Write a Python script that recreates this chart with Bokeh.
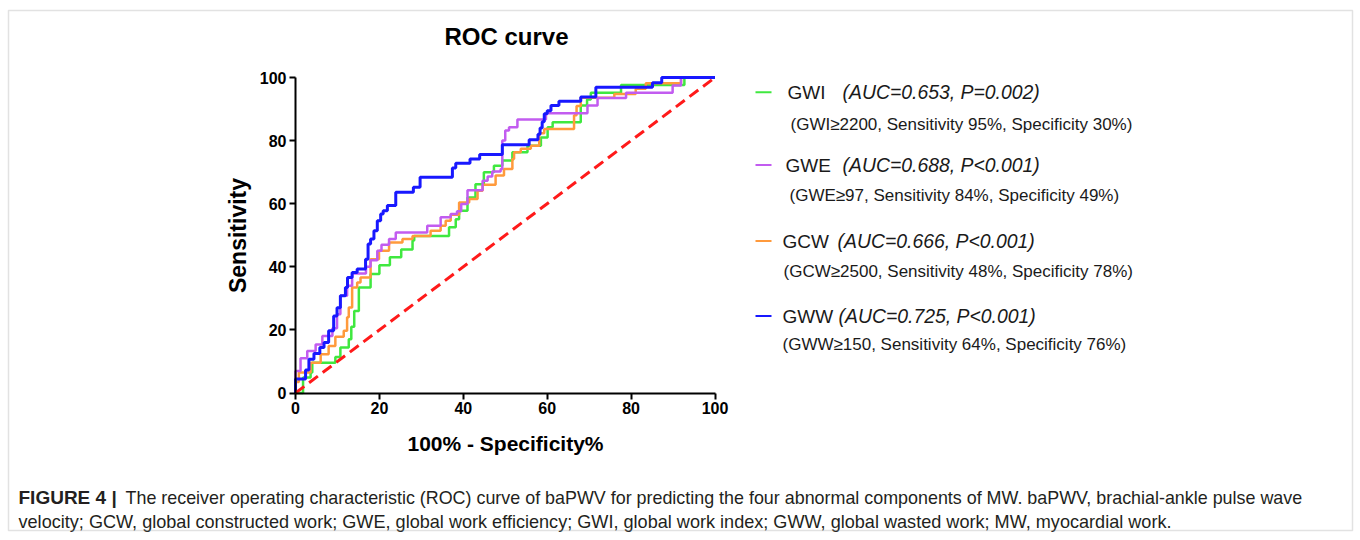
from bokeh.plotting import figure
from bokeh.models import Range1d, Label, BoxAnnotation, FixedTicker
from bokeh.embed import file_html
from bokeh.resources import INLINE

# ---------------- data ----------------
ticks = [0, 20, 40, 60, 80, 100]
chance = [0, 100]

gwi_fpr = [0, 1.8, 3.6, 4.0, 9.5, 10.7, 12.7, 13.3, 14.0, 15.1, 17.9, 20.0, 22.5, 25.2, 27.9, 28.3,
           36.6, 38.2, 39.0, 41.0, 42.9, 44.9, 47.3, 49.3, 51.7, 55.3, 58.5, 60.1, 61.3, 68.0, 69.5,
           70.4, 77.6, 92.7, 100]
gwi_tpr = [0, 4.9, 6.5, 9.6, 11.4, 14.4, 17.0, 21.0, 26.0, 33.4, 37.7, 40.5, 43.0, 45.5, 48.3, 49.8,
           52.5, 55.1, 57.8, 62.0, 66.2, 70.0, 72.0, 73.7, 76.3, 78.4, 81.0, 84.2, 85.8, 91.1, 93.0,
           95.2, 97.6, 100, 100]

gcw_fpr = [0, 0, 0.8, 3.6, 6.0, 7.9, 9.5, 11.5, 12.3, 12.7, 13.5, 14.7, 15.5, 17.9, 19.9, 22.3,
           25.5, 27.9, 32.2, 34.6, 35.8, 37.0, 39.0, 41.4, 43.4, 44.6, 47.7, 49.7, 51.7, 52.1, 53.7,
           56.1, 58.1, 59.3, 66.4, 67.0, 68.0, 76.0, 81.1, 83.5, 91.9, 100]
gcw_tpr = [0, 3.5, 6.5, 9.6, 12.3, 14.9, 17.8, 19.7, 24.0, 27.1, 33.4, 35.0, 36.6, 42.4, 45.1, 47.7,
           48.8, 49.8, 51.4, 53.0, 54.6, 56.5, 60.4, 61.5, 64.1, 66.0, 68.9, 71.0, 74.2, 76.3, 77.4,
           78.4, 82.3, 83.7, 88.0, 91.0, 93.6, 94.8, 96.4, 98.2, 100, 100]

gwe_fpr = [0, 0, 1.2, 2.8, 4.8, 6.4, 8.8, 9.9, 10.7, 12.3, 13.5, 16.8, 17.9, 19.5, 20.5, 22.3, 23.9,
           31.4, 34.6, 37.0, 38.5, 39.5, 41.0, 44.6, 45.8, 46.9, 48.9, 49.3, 50.0, 50.9, 52.9, 59.7,
           69.6, 72.0, 78.8, 89.9, 91.9, 100]
gwe_tpr = [0, 7.0, 11.0, 13.3, 15.4, 18.1, 20.5, 25.0, 30.8, 34.0, 37.9, 40.0, 42.1, 45.1, 47.0, 48.8,
           50.9, 53.0, 55.7, 56.7, 57.6, 59.9, 64.3, 67.3, 68.6, 70.2, 71.0, 80.0, 83.2, 84.2, 86.7,
           88.7, 91.1, 93.5, 95.2, 97.5, 100, 100]

gww_fpr = [0, 0, 2.4, 3.2, 4.4, 5.8, 6.8, 7.9, 9.1, 9.9, 10.7, 11.9, 12.4, 13.5, 14.7, 16.7, 17.3,
           17.9, 18.7, 19.5, 20.3, 20.9, 21.9, 23.9, 28.1, 29.7, 37.4, 38.2, 41.6, 43.9, 49.3, 55.7,
           57.8, 58.3, 58.8, 59.3, 60.0, 60.9, 62.8, 68.0, 71.6, 85.1, 87.3, 100]
gww_tpr = [0, 4.4, 7.3, 10.7, 12.5, 14.4, 16.0, 19.7, 24.4, 27.0, 30.8, 33.4, 36.6, 38.2, 39.3, 42.4,
           47.2, 48.8, 51.4, 54.6, 56.7, 57.8, 59.4, 63.6, 65.2, 68.4, 71.3, 72.8, 74.2, 75.6, 78.7,
           80.3, 82.0, 84.0, 86.0, 88.5, 89.5, 91.1, 92.5, 93.8, 96.9, 98.3, 100, 100]

names = ["GWI", "GWE", "GCW", "GWW"]
stats = ["(AUC=0.653, P=0.002)", "(AUC=0.688, P<0.001)", "(AUC=0.666, P<0.001)", "(AUC=0.725, P<0.001)"]
cutoffs = ["(GWI\u22652200, Sensitivity 95%, Specificity 30%)",
           "(GWE\u226597, Sensitivity 84%, Specificity 49%)",
           "(GCW\u22652500, Sensitivity 48%, Specificity 78%)",
           "(GWW\u2265150, Sensitivity 64%, Specificity 76%)"]
colors = {"GWI": "#3fe83f", "GWE": "#c25cf0", "GCW": "#ff9a3c", "GWW": "#1818ff"}
caption1 = ("The receiver operating characteristic (ROC) curve of baPWV for predicting the four abnormal "
            "components of MW. baPWV, brachial-ankle pulse wave")
caption2 = ("velocity; GCW, global constructed work; GWE, global work efficiency; GWI, global work index; "
            "GWW, global wasted work; MW, myocardial work.")

# ---------------- layout ----------------
W, H = 1360, 540
SX, SY = 4.195, 3.155          # pixels per data unit
OX, OY = 295.0, 392.5          # pixel position of the (0, 0) corner
X0 = -OX / SX
X1 = X0 + W / SX
Y1 = OY / SY
Y0 = Y1 - H / SY
FONT = "Liberation Sans"


def dx(px):
    return X0 + px / SX


def dy(py):
    return Y1 - py / SY


p = figure(width=W, height=H, x_range=Range1d(X0, X1), y_range=Range1d(Y0, Y1),
           output_backend="svg", toolbar_location=None, title=None, min_border=0)
p.background_fill_color = "white"
p.border_fill_color = "white"
p.outline_line_color = None
p.grid.visible = False

for ax in (p.xaxis[0], p.yaxis[0]):
    ax.fixed_location = 0
    ax.bounds = (0, 100)
    ax.ticker = FixedTicker(ticks=ticks)
    ax.minor_tick_line_color = None
    ax.major_tick_out = 6
    ax.major_tick_in = 0
    ax.axis_line_width = 2
    ax.major_tick_line_width = 2
    ax.axis_line_color = "black"
    ax.major_tick_line_color = "black"
    ax.major_label_text_font = FONT
    ax.major_label_text_font_style = "bold"
    ax.major_label_text_font_size = "16px"
    ax.major_label_text_color = "black"
    ax.major_label_standoff = 3
    ax.axis_label_text_font = FONT
    ax.axis_label_text_font_style = "bold"
    ax.axis_label_text_color = "black"

p.xaxis.axis_label = "100% - Specificity%"
p.xaxis.axis_label_text_font_size = "21px"
p.xaxis.axis_label_standoff = 14
p.yaxis.axis_label = "Sensitivity"
p.yaxis.axis_label_text_font_size = "23px"
p.yaxis.axis_label_standoff = 6

series = {"GWI": (gwi_fpr, gwi_tpr), "GCW": (gcw_fpr, gcw_tpr),
          "GWE": (gwe_fpr, gwe_tpr), "GWW": (gww_fpr, gww_tpr)}
for nm in ["GWI", "GCW", "GWE", "GWW"]:
    fx, ty = series[nm]
    p.step(fx, ty, mode="after", line_color=colors[nm],
           line_width=3 if nm == "GWW" else 2.5)

p.line(chance, chance, line_color="#ff1a1a", line_width=3, line_dash="11 6")

# title
p.add_layout(Label(x=dx(506), y=dy(36), text="ROC curve", text_align="center",
                   text_baseline="middle", text_font=FONT, text_font_style="bold",
                   text_font_size="24px", text_color="black"))

# legend
main_y = [91.7, 164.5, 240.5, 315.5]
sub_y = [123.5, 195, 270.5, 343.5]
name_x = [787, 785, 782, 782]
stat_x = [842, 842, 837, 838]
sub_x = [790, 789, 783, 782]
for i, nm in enumerate(names):
    p.add_layout(BoxAnnotation(left=dx(755), right=dx(771), top=dy(main_y[i] - 1),
                               bottom=dy(main_y[i] + 1), fill_color=colors[nm], fill_alpha=1,
                               line_color=None))
    p.add_layout(Label(x=dx(name_x[i]), y=dy(main_y[i]), text=nm, text_baseline="middle",
                       text_font=FONT, text_font_size="19px", text_color="#1a1a1a"))
    p.add_layout(Label(x=dx(stat_x[i]), y=dy(main_y[i]), text=stats[i], text_baseline="middle",
                       text_font=FONT, text_font_style="italic", text_font_size="19.4px",
                       text_color="#1a1a1a"))
    p.add_layout(Label(x=dx(sub_x[i]), y=dy(sub_y[i]), text=cutoffs[i], text_baseline="middle",
                       text_font=FONT, text_font_size="17px", text_color="#1a1a1a"))

# caption
p.add_layout(Label(x=dx(18), y=dy(497), text="FIGURE 4 |", text_baseline="middle",
                   text_font=FONT, text_font_style="bold", text_font_size="19px",
                   text_color="#231f20"))
p.add_layout(Label(x=dx(125), y=dy(497), text=caption1, text_baseline="middle",
                   text_font=FONT, text_font_size="17.9px", text_color="#231f20"))
p.add_layout(Label(x=dx(18), y=dy(521), text=caption2, text_baseline="middle",
                   text_font=FONT, text_font_size="18.1px", text_color="#231f20"))

# outer frame
p.add_layout(BoxAnnotation(left=dx(8), right=dx(1352), top=dy(10), bottom=dy(530),
                           fill_alpha=0, line_color="#a0a0a0", line_width=1.5))

open("out.html", "w").write(file_html(p, INLINE))
